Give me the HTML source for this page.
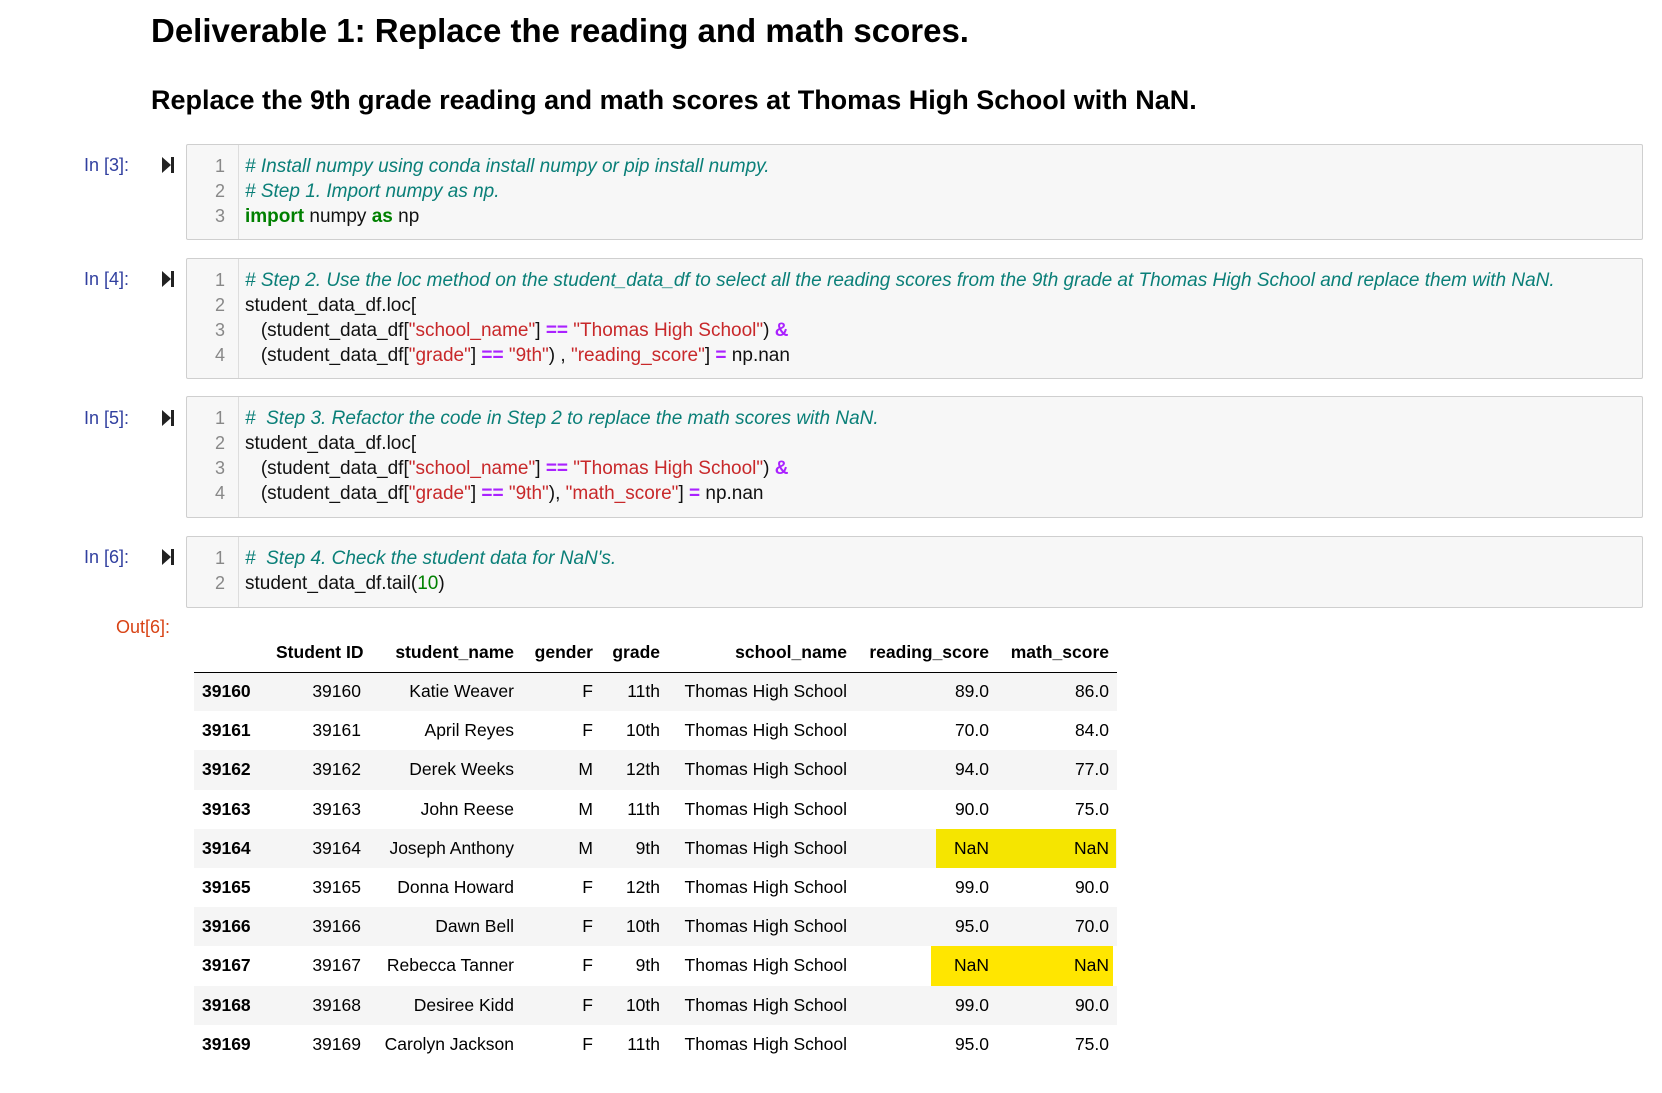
<!DOCTYPE html>
<html><head><meta charset="utf-8">
<style>
body{margin:0;width:1662px;height:1093px;background:#fff;position:relative;overflow:hidden;font-family:"Liberation Sans",sans-serif;}
h1,h2{margin:0;position:absolute;left:151px;font-weight:bold;color:#000;white-space:nowrap;}
h1{top:12px;font-size:33px;}
h2{top:85px;font-size:27px;}
.cell{position:absolute;left:186px;width:1455px;background:#f7f7f7;border:1px solid #cfcfcf;border-radius:2px;}
.gut{position:absolute;left:0;top:0;bottom:0;width:51px;border-right:1px solid #ddd;}
.prompt{position:absolute;left:84px;font-size:18px;color:#303f9f;}
.run{position:absolute;left:162px;width:0;height:0;border-top:8px solid transparent;border-bottom:8px solid transparent;border-left:9px solid #222;}
.run:after{content:"";position:absolute;left:0;top:-8px;width:3px;height:16px;background:#222;}
.ln{position:absolute;left:0;width:38px;text-align:right;color:#888;font-size:18px;}
.code{position:absolute;left:58px;font-size:19px;white-space:pre;color:#111;}
.c{color:#0a7f78;font-style:italic;}
.k{color:#008000;font-weight:bold;}
.s{color:#c8282a;}
.o{color:#aa22ff;font-weight:bold;}
.n{color:#008000;}
table{position:absolute;left:194px;top:634px;border-collapse:collapse;font-size:17.5px;color:#000;table-layout:fixed;width:923px;}
th,td{text-align:right;padding:0 8px;height:39.2px;white-space:nowrap;box-sizing:border-box;}
thead th{border-bottom:1.5px solid #000;height:38px;}
tbody tr:nth-child(odd){background:#f5f5f5;}
tbody th{text-align:left;}
td.y1{background:linear-gradient(to right,transparent 81px,#f5e500 81px);}
td.m1{background:linear-gradient(to right,#f5e500 119px,transparent 119px);}
td.y2{background:linear-gradient(to right,transparent 76px,#ffe600 76px);}
td.m2{background:linear-gradient(to right,#ffe600 116px,transparent 116px);}
</style></head><body>
<h1>Deliverable 1: Replace the reading and math scores.</h1>
<h2>Replace the 9th grade reading and math scores at Thomas High School with NaN.</h2>

<div class="prompt" style="top:155px">In [3]:</div>
<div class="run" style="top:157px"></div>
<div class="cell" style="top:144px;height:94px">
<div class="gut"></div>
<div class="ln" style="top:11px">1</div><div class="ln" style="top:36px">2</div><div class="ln" style="top:61px">3</div>
<div class="code" style="top:11px"><span class="c"># Install numpy using conda install numpy or pip install numpy.</span></div>
<div class="code" style="top:36px"><span class="c"># Step 1. Import numpy as np.</span></div>
<div class="code" style="top:61px"><span class="k">import</span> numpy <span class="k">as</span> np</div>
</div>

<div class="prompt" style="top:269px">In [4]:</div>
<div class="run" style="top:271px"></div>
<div class="cell" style="top:258px;height:119px">
<div class="gut"></div>
<div class="ln" style="top:11px">1</div><div class="ln" style="top:36px">2</div><div class="ln" style="top:61px">3</div><div class="ln" style="top:86px">4</div>
<div class="code" style="top:11px"><span class="c"># Step 2. Use the loc method on the student_data_df to select all the reading scores from the 9th grade at Thomas High School and replace them with NaN.</span></div>
<div class="code" style="top:36px">student_data_df.loc[</div>
<div class="code" style="top:61px">   (student_data_df[<span class="s">"school_name"</span>] <span class="o">==</span> <span class="s">"Thomas High School"</span>) <span class="o">&amp;</span></div>
<div class="code" style="top:86px">   (student_data_df[<span class="s">"grade"</span>] <span class="o">==</span> <span class="s">"9th"</span>) , <span class="s">"reading_score"</span>] <span class="o">=</span> np.nan</div>
</div>

<div class="prompt" style="top:408px">In [5]:</div>
<div class="run" style="top:410px"></div>
<div class="cell" style="top:396px;height:120px">
<div class="gut"></div>
<div class="ln" style="top:11px">1</div><div class="ln" style="top:36px">2</div><div class="ln" style="top:61px">3</div><div class="ln" style="top:86px">4</div>
<div class="code" style="top:11px"><span class="c">#  Step 3. Refactor the code in Step 2 to replace the math scores with NaN.</span></div>
<div class="code" style="top:36px">student_data_df.loc[</div>
<div class="code" style="top:61px">   (student_data_df[<span class="s">"school_name"</span>] <span class="o">==</span> <span class="s">"Thomas High School"</span>) <span class="o">&amp;</span></div>
<div class="code" style="top:86px">   (student_data_df[<span class="s">"grade"</span>] <span class="o">==</span> <span class="s">"9th"</span>), <span class="s">"math_score"</span>] <span class="o">=</span> np.nan</div>
</div>

<div class="prompt" style="top:547px">In [6]:</div>
<div class="run" style="top:549px"></div>
<div class="cell" style="top:536px;height:70px">
<div class="gut"></div>
<div class="ln" style="top:11px">1</div><div class="ln" style="top:36px">2</div>
<div class="code" style="top:11px"><span class="c">#  Step 4. Check the student data for NaN's.</span></div>
<div class="code" style="top:36px">student_data_df.tail(<span class="n">10</span>)</div>
</div>

<div class="prompt" style="top:617px;left:116px;color:#d84315">Out[6]:</div>

<table>
<colgroup><col style="width:74px"><col style="width:101px"><col style="width:153px"><col style="width:79px"><col style="width:67px"><col style="width:187px"><col style="width:142px"><col style="width:120px"></colgroup>
<thead><tr>
<th></th><th>Student ID</th><th>student_name</th><th>gender</th><th>grade</th><th>school_name</th><th>reading_score</th><th>math_score</th>
</tr></thead>
<tbody>
<tr><th>39160</th><td>39160</td><td>Katie Weaver</td><td>F</td><td>11th</td><td>Thomas High School</td><td>89.0</td><td>86.0</td></tr>
<tr><th>39161</th><td>39161</td><td>April Reyes</td><td>F</td><td>10th</td><td>Thomas High School</td><td>70.0</td><td>84.0</td></tr>
<tr><th>39162</th><td>39162</td><td>Derek Weeks</td><td>M</td><td>12th</td><td>Thomas High School</td><td>94.0</td><td>77.0</td></tr>
<tr><th>39163</th><td>39163</td><td>John Reese</td><td>M</td><td>11th</td><td>Thomas High School</td><td>90.0</td><td>75.0</td></tr>
<tr><th>39164</th><td>39164</td><td>Joseph Anthony</td><td>M</td><td>9th</td><td>Thomas High School</td><td class="y1">NaN</td><td class="m1">NaN</td></tr>
<tr><th>39165</th><td>39165</td><td>Donna Howard</td><td>F</td><td>12th</td><td>Thomas High School</td><td>99.0</td><td>90.0</td></tr>
<tr><th>39166</th><td>39166</td><td>Dawn Bell</td><td>F</td><td>10th</td><td>Thomas High School</td><td>95.0</td><td>70.0</td></tr>
<tr><th>39167</th><td>39167</td><td>Rebecca Tanner</td><td>F</td><td>9th</td><td>Thomas High School</td><td class="y2">NaN</td><td class="m2">NaN</td></tr>
<tr><th>39168</th><td>39168</td><td>Desiree Kidd</td><td>F</td><td>10th</td><td>Thomas High School</td><td>99.0</td><td>90.0</td></tr>
<tr><th>39169</th><td>39169</td><td>Carolyn Jackson</td><td>F</td><td>11th</td><td>Thomas High School</td><td>95.0</td><td>75.0</td></tr>
</tbody></table>
</body></html>
